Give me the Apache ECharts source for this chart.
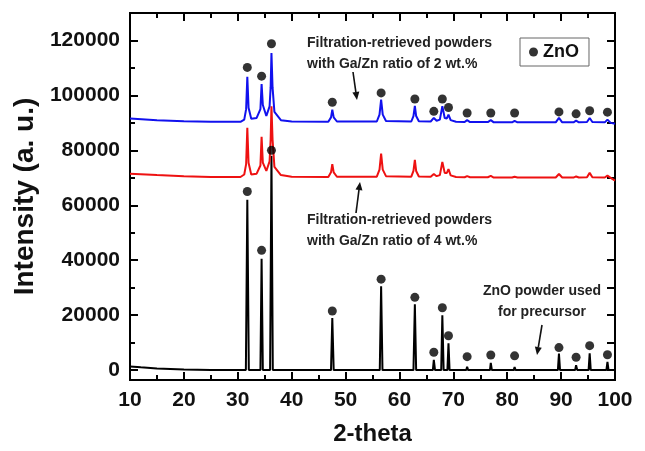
<!DOCTYPE html>
<html>
<head>
<meta charset="utf-8">
<script src="https://cdn.jsdelivr.net/npm/echarts@6/dist/echarts.min.js"></script>
<style>
  html, body { margin: 0; padding: 0; background: #fff; }
  #main { width: 645px; height: 451px; }
</style>
</head>
<body>
<div id="main"></div>
<script>
var FONT = '"Liberation Sans", Arial, sans-serif';

// ZnO 前驱体粉末 (黑)
var znoPowder = [
  [10, 1300], [12, 1000], [15, 600], [20, 200], [25, 50], [31.5, 0], [31.77, 62000], [32.05, 0],
  [34.2, 0], [34.42, 40500], [34.65, 0], [36.0, 0], [36.25, 78000], [36.5, 0],
  [47.3, 0], [47.54, 19000], [47.8, 0], [56.35, 0], [56.6, 30500], [56.85, 0],
  [62.6, 0], [62.86, 24000], [63.1, 0], [66.2, 0], [66.38, 3700], [66.6, 0],
  [67.75, 0], [67.96, 20000], [68.2, 0], [68.9, 0], [69.1, 9800], [69.3, 0],
  [72.4, 0], [72.56, 1200], [72.75, 0], [76.8, 0], [76.95, 2600], [77.15, 0],
  [81.2, 0], [81.37, 1100], [81.55, 0], [89.4, 0], [89.6, 6000], [89.8, 0],
  [92.6, 0], [92.78, 1800], [93.0, 0], [95.1, 0], [95.3, 6100], [95.5, 0],
  [98.4, 0], [98.6, 3000], [98.8, 0], [100, 0]
];

// Ga/Zn 4 wt.% (红)
var ga4 = [
  [10, 71500], [15, 71000], [20, 70600], [25, 70300], [30.5, 70300], [31.2, 71200], [31.55, 75000],
  [31.77, 88200], [32.0, 75500], [32.5, 71200], [33.5, 71500], [34.2, 74500], [34.42, 84900],
  [34.65, 75500], [35.3, 72500], [35.9, 76000], [36.1, 84000], [36.25, 96000], [36.45, 84000],
  [36.8, 74000], [38, 71000], [40, 70400], [46.8, 70300], [47.3, 72000], [47.54, 75000],
  [47.8, 72000], [48.4, 70400], [55.8, 70400], [56.3, 73000], [56.6, 78800], [56.9, 73000],
  [57.5, 70600], [62.2, 70400], [62.6, 72500], [62.86, 76500], [63.1, 72500], [63.6, 70500],
  [65.8, 70400], [66.38, 71400], [66.9, 70600], [67.5, 71000], [67.96, 75800], [68.4, 71800],
  [68.8, 71800], [69.1, 73200], [69.5, 70900], [70.5, 70300], [72.1, 70200], [72.56, 70600],
  [73.1, 70200], [76.4, 70200], [76.95, 70700], [77.5, 70100], [80.9, 70100], [81.37, 70400],
  [81.9, 70100], [89.0, 70100], [89.6, 71400], [90.2, 70100], [92.3, 70100], [92.78, 70500],
  [93.3, 70100], [94.8, 70200], [95.3, 71800], [95.8, 70200], [98.1, 70100], [98.6, 70800],
  [99.2, 70000], [100, 69000]
];

// Ga/Zn 2 wt.% (蓝)
var ga2 = [
  [10, 91600], [15, 91000], [20, 90600], [25, 90400], [30.5, 90400], [31.2, 91200], [31.55, 95000],
  [31.77, 106800], [32.0, 95500], [32.5, 91500], [33.5, 91800], [34.2, 95000], [34.42, 104100],
  [34.65, 96500], [35.3, 92500], [35.9, 96000], [36.1, 103000], [36.25, 115400], [36.45, 103000],
  [36.8, 94000], [38, 91000], [40, 90500], [46.8, 90400], [47.3, 92000], [47.54, 94800],
  [47.8, 92000], [48.4, 90500], [55.8, 90500], [56.3, 93000], [56.6, 98500], [56.9, 93000],
  [57.5, 90700], [62.2, 90500], [62.6, 92500], [62.86, 96200], [63.1, 92500], [63.6, 90600],
  [65.8, 90500], [66.38, 91800], [66.9, 90800], [67.5, 91200], [67.96, 96100], [68.4, 91800],
  [68.8, 91600], [69.1, 93000], [69.5, 91000], [70.5, 90400], [72.1, 90300], [72.56, 91000],
  [73.1, 90300], [76.4, 90300], [76.95, 91000], [77.5, 90200], [80.9, 90200], [81.37, 90700],
  [81.9, 90200], [89.0, 90200], [89.6, 91800], [90.2, 90200], [92.3, 90200], [92.78, 90800],
  [93.3, 90200], [94.8, 90300], [95.3, 91800], [95.8, 90300], [98.1, 90200], [98.6, 91200],
  [99.2, 90000], [100, 89700]
];

// ZnO 衍射峰标记点
var dotsPowder = [
  [31.77, 65000], [34.42, 43600], [36.25, 80000], [47.54, 21500], [56.6, 33100], [62.86, 26500],
  [66.38, 6500], [67.96, 22700], [69.1, 12500], [72.56, 4900], [76.95, 5500], [81.37, 5200],
  [89.6, 8200], [92.78, 4700], [95.3, 8900], [98.6, 5600]
];
var dotsGa2 = [
  [31.77, 110200], [34.42, 107000], [36.25, 118800], [47.54, 97500], [56.6, 100900], [62.86, 98700],
  [66.38, 94200], [67.96, 98700], [69.1, 95600], [72.56, 93600], [76.95, 93600], [81.37, 93600],
  [89.6, 94000], [92.78, 93300], [95.3, 94400], [98.6, 93900]
];

var yMajor = [0, 20000, 40000, 60000, 80000, 100000, 120000];
var yMinor = [10000, 30000, 50000, 70000, 90000, 110000];

var myChart = echarts.init(document.getElementById('main'));

// 箭头：直线 + 三角形箭头
function arrow(x1, y1, x2, y2) {
  var a = Math.atan2(y2 - y1, x2 - x1), L = 8, W = 3.5;
  var bx = x2 - L * Math.cos(a), by = y2 - L * Math.sin(a);
  return {
    type: 'group', silent: true,
    children: [
      { type: 'line', shape: { x1: x1, y1: y1, x2: bx, y2: by }, style: { stroke: '#111', lineWidth: 1.6 } },
      { type: 'polygon', shape: { points: [[x2, y2],
          [bx + W * Math.sin(a), by - W * Math.cos(a)],
          [bx - W * Math.sin(a), by + W * Math.cos(a)]] }, style: { fill: '#111' } }
    ]
  };
}

function note(x, y, text, align) {
  return {
    type: 'text', x: x, y: y, silent: true,
    style: { text: text, fill: '#222', fontFamily: FONT, fontWeight: 'bold', fontSize: 14,
             lineHeight: 21, textAlign: align || 'left' }
  };
}

var tickStyle = { color: '#000', width: 2 };
var axisLineStyle = { onZero: false, lineStyle: { color: '#000', width: 2 } };

function yAx(pos, ticks, len, withLabel) {
  return {
    type: 'value', position: pos, min: -3600, max: 130000,
    axisLine: { show: true, onZero: false, lineStyle: { color: '#000', width: 2 } },
    axisTick: { show: true, inside: true, length: len, lineStyle: tickStyle, customValues: ticks },
    axisLabel: withLabel ? { show: true, customValues: yMajor, color: '#111', fontFamily: FONT,
                fontWeight: 'bold', fontSize: 21, margin: 10,
                formatter: function (v) { return String(v); } } : { show: false },
    splitLine: { show: false }
  };
}

var option = {
  animation: false,
  backgroundColor: '#fff',
  grid: { left: 130, right: 30, top: 13, bottom: 68 },
  legend: {
    data: ['ZnO'], left: 520, top: 38,
    padding: [5, 10, 5, 9], itemWidth: 9, itemHeight: 9, icon: 'circle',
    borderColor: '#666', borderWidth: 1,
    textStyle: { color: '#111', fontFamily: FONT, fontWeight: 'bold', fontSize: 18 }
  },
  xAxis: [{
    type: 'value', position: 'bottom', min: 10, max: 100, interval: 10,
    axisLine: axisLineStyle,
    axisTick: { inside: true, length: 8, lineStyle: tickStyle },
    minorTick: { show: true, splitNumber: 2, length: 5, lineStyle: { color: '#000', width: 2 } },
    axisLabel: { color: '#111', fontFamily: FONT, fontWeight: 'bold', fontSize: 21, margin: 10 },
    splitLine: { show: false },
    name: '2-theta', nameLocation: 'middle', nameGap: 42,
    nameTextStyle: { color: '#111', fontFamily: FONT, fontWeight: 'bold', fontSize: 24 }
  }, {
    type: 'value', position: 'top', min: 10, max: 100, interval: 10,
    axisLine: axisLineStyle,
    axisTick: { inside: true, length: 8, lineStyle: tickStyle },
    minorTick: { show: true, splitNumber: 2, length: 5, lineStyle: { color: '#000', width: 2 } },
    axisLabel: { show: false }, splitLine: { show: false }
  }],
  yAxis: [
    Object.assign(yAx('left', yMajor, 8, true), {
      name: 'Intensity (a. u.)', nameLocation: 'middle', nameGap: 88,
      nameTextStyle: { color: '#111', fontFamily: FONT, fontWeight: 'bold', fontSize: 28 }
    }),
    yAx('left', yMinor, 5, false),
    yAx('right', yMajor, 8, false),
    yAx('right', yMinor, 8, false)
  ],
  series: [
    { name: 'powder', type: 'line', data: znoPowder, showSymbol: false,
      lineStyle: { color: '#000', width: 2 }, z: 2 },
    { name: 'ga4', type: 'line', data: ga4, showSymbol: false,
      lineStyle: { color: '#ee1111', width: 2 }, z: 3 },
    { name: 'ga2', type: 'line', data: ga2, showSymbol: false,
      lineStyle: { color: '#1111ee', width: 2 }, z: 4 },
    { name: 'ZnO', type: 'scatter', data: dotsPowder.concat(dotsGa2), symbolSize: 9,
      itemStyle: { color: '#000' }, z: 5 }
  ],
  graphic: [
    note(307, 33, 'Filtration-retrieved powders\nwith Ga/Zn ratio of 2 wt.%'),
    note(307, 210, 'Filtration-retrieved powders\nwith Ga/Zn ratio of 4 wt.%'),
    note(542, 281, 'ZnO powder used\nfor precursor', 'center'),
    arrow(353, 72, 357, 100),
    arrow(356, 213, 360, 182),
    arrow(542, 325, 537, 355)
  ]
};

myChart.setOption(option);
</script>
</body>
</html>
